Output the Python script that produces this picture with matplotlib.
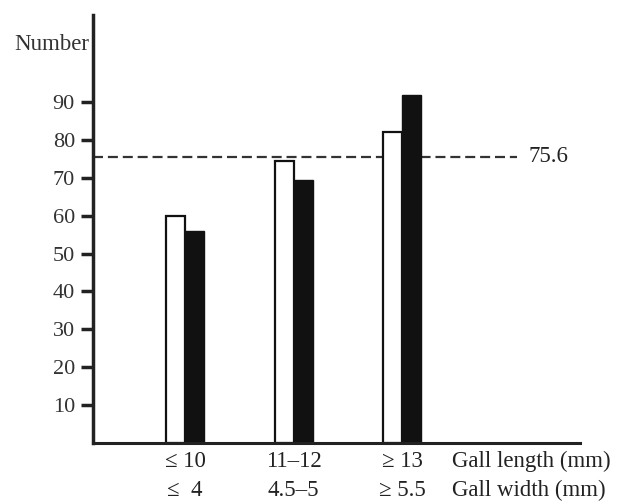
import matplotlib.pyplot as plt
import numpy as np

plt.rcParams['font.family'] = ['Liberation Serif', 'DejaVu Serif']

length_labels = ["\u2264 10", "11\u201312", "\u2265 13"]
width_labels = ["\u2264  4", "4.5\u20135", "\u2265 5.5"]
open_vals = [60, 74.5, 82]
filled_vals = [56, 69.5, 92]
mean_line = 75.6
yticks = [10, 20, 30, 40, 50, 60, 70, 80, 90]

fig = plt.figure(figsize=(6.19, 5.03), dpi=100)
ax = fig.add_axes([93 / 619, 60 / 503, 487 / 619, 428 / 503])

x = np.arange(len(length_labels))
w = 0.175
txt = '#222222'

# reference line sits behind the bars
ax.plot([-0.848, 3.06], [mean_line, mean_line], color='#333333', lw=1.6,
        dashes=(4.5, 2.2), zorder=1)
ax.text(3.17, mean_line, f"{mean_line}", va='center', ha='left',
        fontsize=16.5, color=txt)

ax.bar(x - w / 2, open_vals, w, color='white', edgecolor='#111111',
       linewidth=1.6, zorder=2)
ax.bar(x + w / 2, filled_vals, w, color='#111111', edgecolor='#111111',
       linewidth=1.0, zorder=2)

ax.set_xlim(-0.848, 3.64)
ax.set_ylim(0, 113)
ax.set_yticks(yticks)
ax.set_yticklabels([str(t) for t in yticks], fontsize=16, color='#333333')
ax.tick_params(axis='y', length=9, width=2.5, pad=4, color='#222222')
ax.set_xticks([])

for s in ['top', 'right']:
    ax.spines[s].set_visible(False)
ax.spines['left'].set_linewidth(2.5)
ax.spines['bottom'].set_linewidth(2.2)
ax.spines['left'].set_color('#222222')
ax.spines['bottom'].set_color('#222222')

ax.text(-0.008, 105.3, "Number", transform=ax.get_yaxis_transform(),
        ha='right', va='center', fontsize=16.5, color='#333333')

tr = ax.get_xaxis_transform()
for xi, a, b in zip(x, length_labels, width_labels):
    ax.text(xi, -0.044, a, transform=tr, ha='center', va='center', fontsize=16.5, color=txt)
    ax.text(xi, -0.11, b, transform=tr, ha='center', va='center', fontsize=16.5, color=txt)
ax.text(2.46, -0.044, "Gall length (mm)", transform=tr, ha='left', va='center',
        fontsize=16.5, color=txt)
ax.text(2.46, -0.11, "Gall width (mm)", transform=tr, ha='left', va='center',
        fontsize=16.5, color=txt)

fig.savefig("out.png", dpi=100)
